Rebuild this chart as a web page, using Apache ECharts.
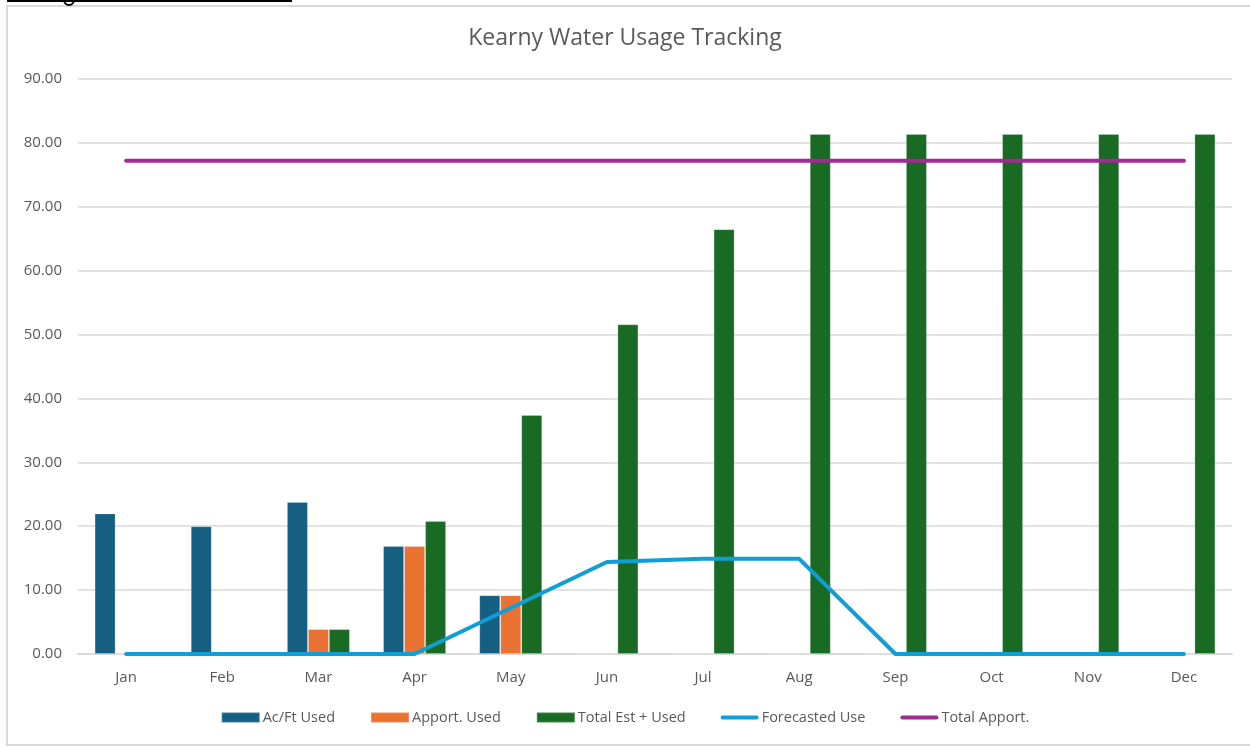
<!DOCTYPE html>
<html>
<head>
<meta charset="utf-8">
<script src="https://cdn.jsdelivr.net/npm/echarts@6/dist/echarts.min.js"></script>
<style>
html,body{margin:0;padding:0;background:#fff;}
#chart{width:1250px;height:747px;}
</style>
</head>
<body>
<div id="chart"></div>
<script>
var months = ['Jan','Feb','Mar','Apr','May','Jun','Jul','Aug','Sep','Oct','Nov','Dec'];
var acFtUsed = [22.0, 20.0, 23.8, 16.9, 9.2, 0, 0, 0, 0, 0, 0, 0];
var apportUsed = [0, 0, 3.9, 16.9, 9.2, 0, 0, 0, 0, 0, 0, 0];
var totalEstUsed = [0, 0, 3.9, 20.8, 37.4, 51.6, 66.5, 81.4, 81.4, 81.4, 81.4, 81.4];
var forecastedUse = [0, 0, 0, 0, 7.2, 14.4, 14.9, 14.9, 0, 0, 0, 0];
var totalApport = [77.2, 77.2, 77.2, 77.2, 77.2, 77.2, 77.2, 77.2, 77.2, 77.2, 77.2, 77.2];
var seriesNames = ['Ac/Ft Used', 'Apport. Used', 'Total Est + Used', 'Forecasted Use', 'Total Apport.'];

var FONT = '"Open Sans", "Liberation Sans", sans-serif';
var TXT = '#595959';
var LINE_ICON = 'path://M2,0 L36,0 A2,2 0 0 1 36,4 L2,4 A2,2 0 0 1 2,0 Z';
var chart = echarts.init(document.getElementById('chart'), null, {renderer: 'canvas'});
function barSeries(name, data, color) {
  return {
    name: name, type: 'bar', data: data, barWidth: 21, barGap: '0%',
    itemStyle: {color: color, borderColor: 'rgba(255,255,255,0.2)', borderWidth: 1},
    emphasis: {disabled: true}
  };
}
function lineSeries(name, data, color) {
  return {
    name: name, type: 'line', data: data, symbol: 'none', smooth: false,
    lineStyle: {color: color, width: 4, cap: 'round'},
    itemStyle: {color: color},
    emphasis: {disabled: true}, z: 5
  };
}
chart.setOption({
  animation: false,
  backgroundColor: '#ffffff',
  title: {
    text: 'Kearny Water Usage Tracking', left: 'center', top: 22,
    textStyle: {fontFamily: FONT, fontSize: 23, fontWeight: 'normal', color: TXT}
  },
  grid: {left: 78, right: 18, top: 79, bottom: 93},
  legend: {
    bottom: 17, left: 'center', itemWidth: 38, itemHeight: 10, itemGap: 35,
    textStyle: {fontFamily: FONT, fontSize: 14.5, color: TXT, padding: [0,0,0,-2]},
    data: [
      {name: seriesNames[0], icon: 'rect'},
      {name: seriesNames[1], icon: 'rect'},
      {name: seriesNames[2], icon: 'rect'},
      {name: seriesNames[3], icon: LINE_ICON, itemStyle: {color: '#0F9ED5'}},
      {name: seriesNames[4], icon: LINE_ICON, itemStyle: {color: '#A02B93'}}
    ]
  },
  xAxis: {
    type: 'category', data: months,
    axisLine: {lineStyle: {color: '#d9d9d9', width: 2}},
    axisTick: {show: false},
    axisLabel: {fontFamily: FONT, fontSize: 15, color: TXT, margin: 16}
  },
  yAxis: {
    type: 'value', min: 0, max: 90, interval: 10,
    axisLine: {show: false}, axisTick: {show: false},
    splitLine: {lineStyle: {color: '#d9d9d9', width: 1.5}},
    axisLabel: {fontFamily: FONT, fontSize: 15, color: TXT, margin: 16,
      formatter: function (v) { return v.toFixed(2); }}
  },
  graphic: [
    {type: 'rect', shape: {x: 7, y: 6, width: 1260, height: 739}, style: {fill: 'none', stroke: '#d9d9d9', lineWidth: 2}, silent: true},
    {type: 'rect', shape: {x: 7, y: 0, width: 285, height: 2}, style: {fill: '#000'}, silent: true},
    {type: 'arc', shape: {cx: 69, cy: 0, r: 5, startAngle: 0, endAngle: Math.PI}, style: {stroke: '#000', lineWidth: 2, fill: 'none'}, silent: true}
  ],
  series: [
    barSeries(seriesNames[0], acFtUsed, '#156082'),
    barSeries(seriesNames[1], apportUsed, '#E97132'),
    barSeries(seriesNames[2], totalEstUsed, '#196B24'),
    lineSeries(seriesNames[3], forecastedUse, '#0F9ED5'),
    lineSeries(seriesNames[4], totalApport, '#A02B93')
  ]
});
</script>
</body>
</html>
